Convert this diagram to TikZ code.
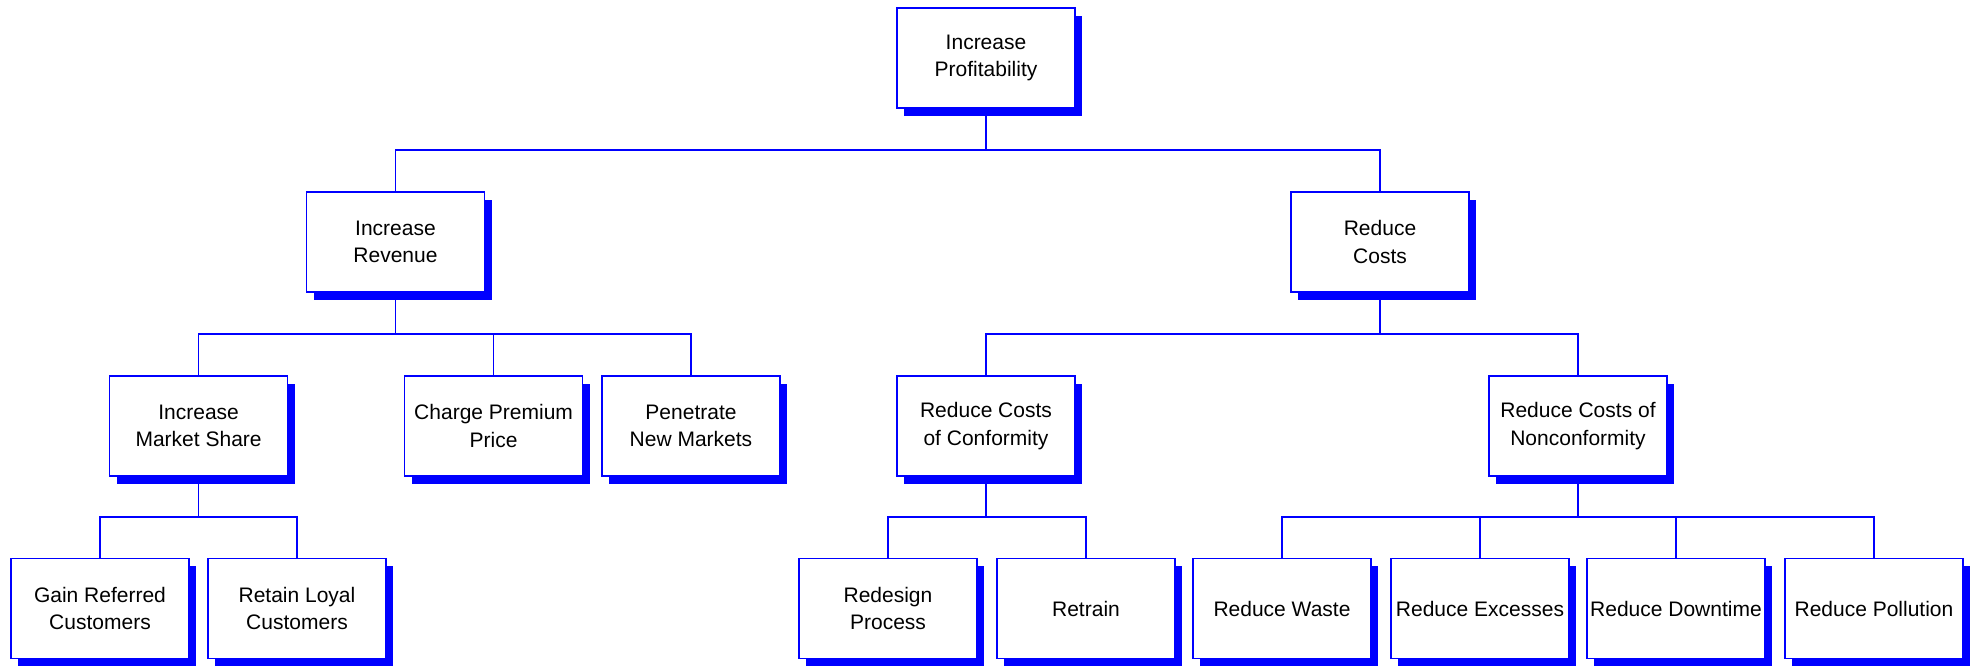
\documentclass[tikz,border=0pt]{standalone}
\usepackage{fontspec}
\setmainfont{Liberation Sans}
\usetikzlibrary{shadows}
\definecolor{pblue}{RGB}{0,0,255}
\begin{document}
\begin{tikzpicture}[x=0.5pt,y=-0.5pt,
  box/.style={draw=pblue, fill=white, line width=0.8pt, minimum width=89pt, minimum height=50pt,
    inner sep=0pt, align=center, font=\fontsize{10.5}{13.6}\selectfont,
    drop shadow={shadow xshift=3.5pt, shadow yshift=-3.8pt, fill=pblue, opacity=1}},
  link/.style={draw=pblue, line width=0.8pt}]
\useasboundingbox (0,0) rectangle (1977,666);
\coordinate (bar1) at (0,150);
\coordinate (bar2) at (0,334);
\coordinate (bar3) at (0,517);
% level 1
\node[box] (profit) at (986,58) {Increase\\Profitability};
% level 2
\node[box] (rev) at (395.5,242) {Increase\\Revenue};
\node[box] (costs) at (1380,242) {Reduce\\Costs};
% level 3
\node[box] (market) at (198.6,426) {Increase\\Market Share};
\node[box] (premium) at (493.6,426) {Charge Premium\\Price};
\node[box] (penetrate) at (691,426) {Penetrate\\New Markets};
\node[box] (conf) at (986,426) {Reduce Costs\\of Conformity};
\node[box] (nonconf) at (1578,426) {Reduce Costs of\\Nonconformity};
% level 4
\node[box] (gain) at (100,608.5) {Gain Referred\\Customers};
\node[box] (retain) at (297,608.5) {Retain Loyal\\Customers};
\node[box] (redesign) at (888,608.5) {Redesign\\Process};
\node[box] (retrain) at (1086,608.5) {Retrain};
\node[box] (waste) at (1282,608.5) {Reduce Waste};
\node[box] (excesses) at (1480,608.5) {Reduce Excesses};
\node[box] (downtime) at (1676,608.5) {Reduce Downtime};
\node[box] (pollution) at (1874,608.5) {Reduce Pollution};
% connectors
\foreach \c in {rev,costs}
  \draw[link] (profit.south) -- (profit.south |- bar1) -| (\c.north);
\foreach \c in {market,premium,penetrate}
  \draw[link] (rev.south) -- (rev.south |- bar2) -| (\c.north);
\foreach \c in {conf,nonconf}
  \draw[link] (costs.south) -- (costs.south |- bar2) -| (\c.north);
\foreach \c in {gain,retain}
  \draw[link] (market.south) -- (market.south |- bar3) -| (\c.north);
\foreach \c in {redesign,retrain}
  \draw[link] (conf.south) -- (conf.south |- bar3) -| (\c.north);
\foreach \c in {waste,excesses,downtime,pollution}
  \draw[link] (nonconf.south) -- (nonconf.south |- bar3) -| (\c.north);
\end{tikzpicture}
\end{document}
